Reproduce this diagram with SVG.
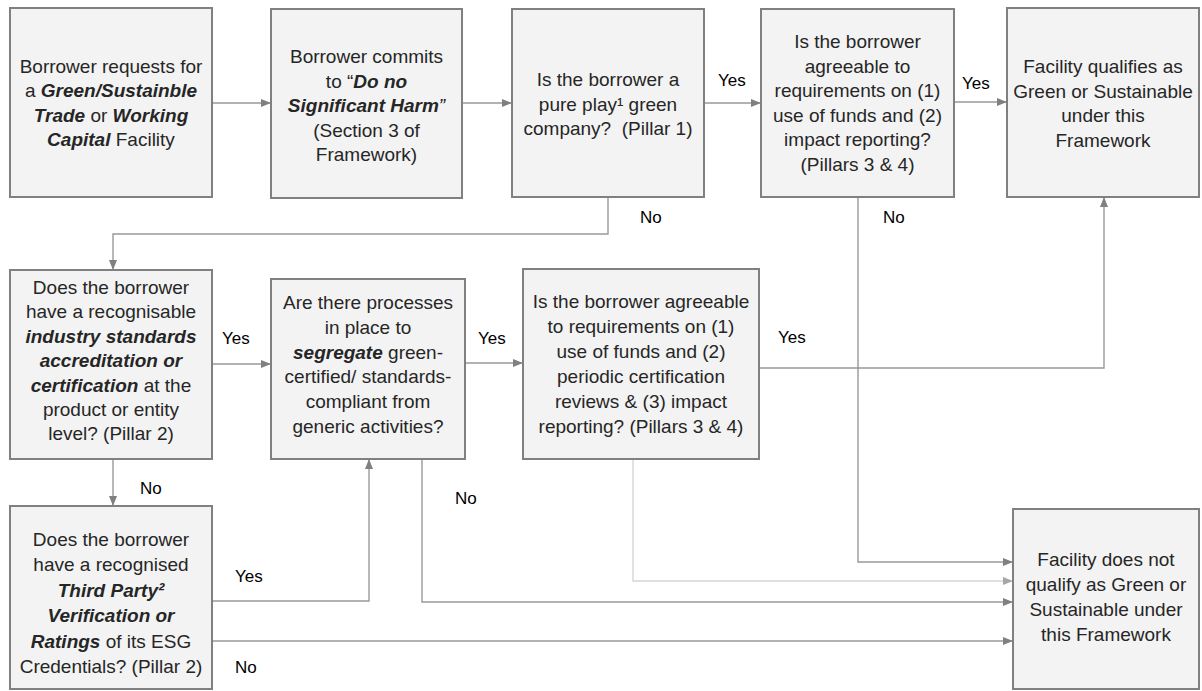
<svg xmlns="http://www.w3.org/2000/svg" width="1202" height="691" viewBox="0 0 1202 691">
<style>
.box{fill:#f3f3f3;stroke:#808080;stroke-width:2}
.t{font-family:"Liberation Sans",Arial,sans-serif;font-size:19px;fill:#262626;text-anchor:middle;white-space:pre}
.bi{font-weight:bold;font-style:italic}
.i{font-style:italic}
.lbl{font-family:"Liberation Sans",Arial,sans-serif;font-size:17px;fill:#000}
.c{fill:none;stroke:#999;stroke-width:1.4}
.cl{fill:none;stroke:#d6d6d6;stroke-width:1.4}
</style>
<defs>
<marker id="a" markerUnits="userSpaceOnUse" markerWidth="10" markerHeight="10" refX="10" refY="5" orient="auto" viewBox="0 0 10 10">
<path d="M0,1 L10,5 L0,9 Z" fill="#808080"/>
</marker>
<marker id="al" markerUnits="userSpaceOnUse" markerWidth="10" markerHeight="10" refX="10" refY="5" orient="auto" viewBox="0 0 10 10">
<path d="M0,1 L10,5 L0,9 Z" fill="#a6a6a6"/>
</marker>
</defs>

<g id="connectors">
<path class="c" d="M212,103 H271" marker-end="url(#a)"/>
<path class="c" d="M462,103 H512" marker-end="url(#a)"/>
<path class="c" d="M704,103 H761" marker-end="url(#a)"/>
<path class="c" d="M954,102 H1007" marker-end="url(#a)"/>
<path class="c" d="M608,197 V234 H113 V270" marker-end="url(#a)"/>
<path class="c" d="M212,364 H271" marker-end="url(#a)"/>
<path class="c" d="M465,363 H523" marker-end="url(#a)"/>
<path class="c" d="M759,368 H1104 V197" marker-end="url(#a)"/>
<path class="c" d="M858,197 V562 H1013" marker-end="url(#a)"/>
<path class="c" d="M113,459 V506" marker-end="url(#a)"/>
<path class="c" d="M212,601 H369 V459" marker-end="url(#a)"/>
<path class="c" d="M422,459 V602 H1013" marker-end="url(#a)"/>
<path class="cl" d="M633,459 V581 H1013" marker-end="url(#al)"/>
<path class="c" d="M212,641 H1013" marker-end="url(#a)"/>
</g>

<g id="labels">
<text class="lbl" x="718" y="86">Yes</text>
<text class="lbl" x="962" y="89">Yes</text>
<text class="lbl" x="640" y="223">No</text>
<text class="lbl" x="883" y="223">No</text>
<text class="lbl" x="222" y="344">Yes</text>
<text class="lbl" x="478" y="344">Yes</text>
<text class="lbl" x="778" y="343">Yes</text>
<text class="lbl" x="140" y="494">No</text>
<text class="lbl" x="455" y="504">No</text>
<text class="lbl" x="235" y="582">Yes</text>
<text class="lbl" x="235" y="673">No</text>
</g>

<g id="n1">
<rect class="box" x="10" y="8" width="202" height="189"/>
<text class="t" x="111" y="73">Borrower requests for</text>
<text class="t" x="111" y="97.4">a <tspan class="bi">Green/Sustainble</tspan></text>
<text class="t" x="111" y="121.8"><tspan class="bi">Trade</tspan> or <tspan class="bi">Working</tspan></text>
<text class="t" x="111" y="146.2"><tspan class="bi">Capital</tspan> Facility</text>
</g>

<g id="n2">
<rect class="box" x="271" y="9" width="191" height="189"/>
<text class="t" x="366.5" y="63">Borrower commits</text>
<text class="t" x="366.5" y="87.5">to “<tspan class="bi">Do no</tspan></text>
<text class="t" x="366.5" y="112"><tspan class="bi">Significant Harm</tspan><tspan class="i">”</tspan></text>
<text class="t" x="366.5" y="136.5">(Section 3 of</text>
<text class="t" x="366.5" y="161">Framework)</text>
</g>

<g id="n3">
<rect class="box" x="512" y="9" width="192" height="188"/>
<text class="t" x="608" y="86">Is the borrower a</text>
<text class="t" x="608" y="110.5">pure play¹ green</text>
<text class="t" x="608" y="135">company?  (Pillar 1)</text>
</g>

<g id="n4">
<rect class="box" x="761" y="9" width="193" height="188"/>
<text class="t" x="857.5" y="48">Is the borrower</text>
<text class="t" x="857.5" y="72.5">agreeable to</text>
<text class="t" x="857.5" y="97">requirements on (1)</text>
<text class="t" x="857.5" y="121.5">use of funds and (2)</text>
<text class="t" x="857.5" y="146">impact reporting?</text>
<text class="t" x="857.5" y="170.5">(Pillars 3 &amp; 4)</text>
</g>

<g id="n5">
<rect class="box" x="1007" y="8" width="192" height="189"/>
<text class="t" x="1103" y="73">Facility qualifies as</text>
<text class="t" x="1103" y="97.5">Green or Sustainable</text>
<text class="t" x="1103" y="122">under this</text>
<text class="t" x="1103" y="146.5">Framework</text>
</g>

<g id="n6">
<rect class="box" x="10" y="270" width="202" height="189"/>
<text class="t" x="111" y="294">Does the borrower</text>
<text class="t" x="111" y="318.4">have a recognisable</text>
<text class="t" x="111" y="342.8"><tspan class="bi">industry standards</tspan></text>
<text class="t" x="111" y="367.2"><tspan class="bi">accreditation or</tspan></text>
<text class="t" x="111" y="391.6"><tspan class="bi">certification</tspan> at the</text>
<text class="t" x="111" y="416">product or entity</text>
<text class="t" x="111" y="440.4">level? (Pillar 2)</text>
</g>

<g id="n7">
<rect class="box" x="271" y="279" width="194" height="180"/>
<text class="t" x="368" y="309">Are there processes</text>
<text class="t" x="368" y="333.8">in place to</text>
<text class="t" x="368" y="358.6"><tspan class="bi">segregate</tspan> green-</text>
<text class="t" x="368" y="383.4">certified/ standards-</text>
<text class="t" x="368" y="408.2">compliant from</text>
<text class="t" x="368" y="433">generic activities?</text>
</g>

<g id="n8">
<rect class="box" x="523" y="269" width="236" height="190"/>
<text class="t" x="641" y="308">Is the borrower agreeable</text>
<text class="t" x="641" y="333">to requirements on (1)</text>
<text class="t" x="641" y="358">use of funds and (2)</text>
<text class="t" x="641" y="383">periodic certification</text>
<text class="t" x="641" y="408">reviews &amp; (3) impact</text>
<text class="t" x="641" y="433">reporting? (Pillars 3 &amp; 4)</text>
</g>

<g id="n9">
<rect class="box" x="10" y="506" width="202" height="183"/>
<text class="t" x="111" y="546">Does the borrower</text>
<text class="t" x="111" y="571.4">have a recognised</text>
<text class="t" x="111" y="596.8"><tspan class="bi">Third Party²</tspan></text>
<text class="t" x="111" y="622.2"><tspan class="bi">Verification or</tspan></text>
<text class="t" x="111" y="647.6"><tspan class="bi">Ratings</tspan> of its ESG</text>
<text class="t" x="111" y="673">Credentials? (Pillar 2)</text>
</g>

<g id="n10">
<rect class="box" x="1013" y="509" width="186" height="180"/>
<text class="t" x="1106" y="566">Facility does not</text>
<text class="t" x="1106" y="591">qualify as Green or</text>
<text class="t" x="1106" y="616">Sustainable under</text>
<text class="t" x="1106" y="641">this Framework</text>
</g>
</svg>
